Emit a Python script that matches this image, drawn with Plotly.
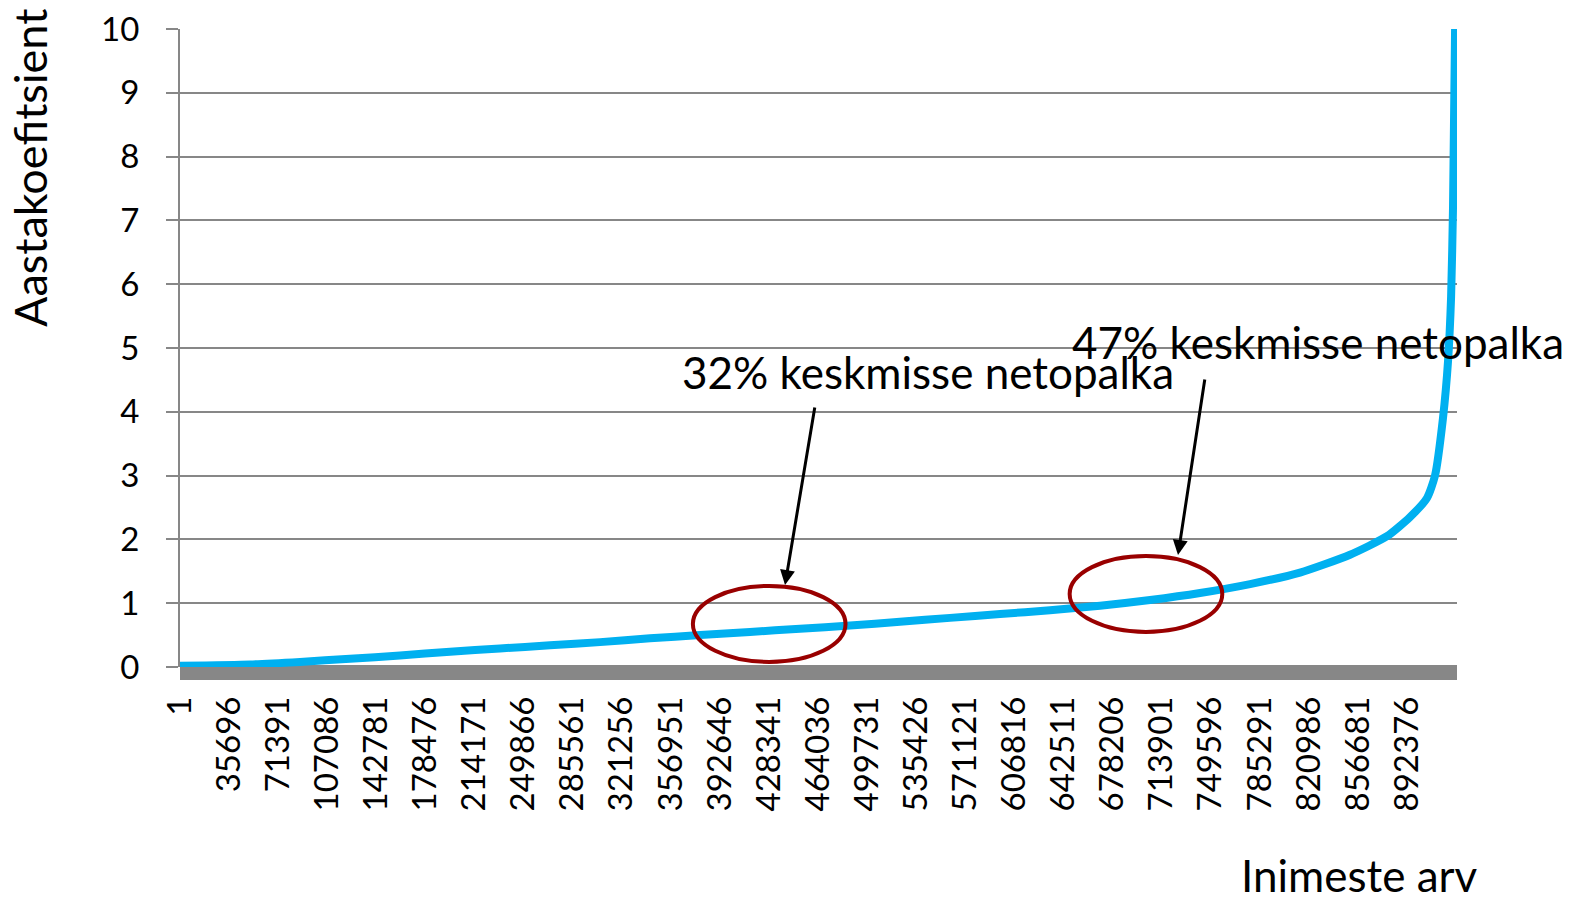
import plotly.graph_objects as go

# people ranked (x) and their annual coefficient (y)
people = [1, 50900, 87300, 123600, 160000, 196400, 232700, 269100, 305500, 341800,
          378200, 414500, 450900, 487300, 523600, 560000, 596400, 632700, 669100,
          705500, 741800, 778200, 814500, 850900, 877800, 894500, 906900, 912700,
          918500, 922200, 924400, 925800, 927300]
coef = [0.02, 0.04, 0.08, 0.13, 0.18, 0.24, 0.29, 0.34, 0.39, 0.45,
        0.50, 0.55, 0.60, 0.65, 0.71, 0.77, 0.83, 0.89, 0.96,
        1.05, 1.16, 1.30, 1.48, 1.76, 2.05, 2.35, 2.65, 3.0,
        3.9, 4.8, 5.8, 7.2, 10.0]

tick_vals = [1 + 35695 * k for k in range(26)]
tick_text = [str(v) for v in tick_vals]
y_ticks = list(range(0, 11))

FONT = "Lato, Calibri, sans-serif"
GRID = "#878787"
RING = "#990000"

fig = go.Figure()
fig.add_trace(
    go.Scatter(
        x=people,
        y=coef,
        mode="lines",
        line=dict(color="#00B0F0", width=8, shape="spline", smoothing=0.6),
        hoverinfo="skip",
    )
)

# thick grey axis band under zero
fig.add_shape(type="rect", xref="paper", yref="paper", x0=0, x1=1, y0=-0.0205, y1=0.003,
              fillcolor="#878787", line=dict(width=0), layer="below")

# red rings
fig.add_shape(type="circle", xref="x", yref="y", x0=373000, x1=484000, y0=0.08, y1=1.27,
              line=dict(color=RING, width=4))
fig.add_shape(type="circle", xref="x", yref="y", x0=647000, x1=758000, y0=0.55, y1=1.74,
              line=dict(color=RING, width=4))


def label(text, x, y, size=44, angle=0):
    return dict(text=text, xref="paper", yref="paper", x=x, y=y, xanchor="center",
                yanchor="middle", textangle=angle, showarrow=False,
                font=dict(size=size, family=FONT, color="black"))


annotations = [
    label("32% keskmisse netopalka", 0.5857, 0.4624),
    label("47% keskmisse netopalka", 0.891, 0.509),
    dict(text="", xref="x", yref="y", x=440000, y=1.285, ax=30, ay=-179,
         showarrow=True, arrowhead=2, arrowsize=1, arrowwidth=3, arrowcolor="black"),
    dict(text="", xref="x", yref="y", x=725800, y=1.755, ax=27, ay=-177,
         showarrow=True, arrowhead=2, arrowsize=1, arrowwidth=3, arrowcolor="black"),
    label("Aastakoefitsient", -0.1175, 0.782, size=45, angle=-90),
    label("Inimeste arv", 0.924, -0.326),
]

fig.update_layout(
    width=1567,
    height=889,
    paper_bgcolor="white",
    plot_bgcolor="rgba(0,0,0,0)",
    margin=dict(l=172, r=118, t=21, b=230, autoexpand=False),
    showlegend=False,
    font=dict(family=FONT, color="black"),
    annotations=annotations,
    xaxis=dict(
        range=[1, 928700],
        tickvals=tick_vals,
        ticktext=tick_text,
        tickangle=-90,
        tickfont=dict(size=33, family=FONT, color="black"),
        showgrid=False,
        zeroline=False,
        showline=False,
        ticks="",
        ticklabelstandoff=22,
        ticklabeloverflow="allow",
    ),
    yaxis=dict(
        range=[0, 10],
        tickvals=y_ticks,
        tickfont=dict(size=33, family=FONT, color="black"),
        showgrid=True,
        gridcolor=GRID,
        gridwidth=2,
        zeroline=False,
        showline=True,
        linecolor=GRID,
        linewidth=2,
        ticks="outside",
        ticklen=12,
        tickwidth=2,
        tickcolor=GRID,
        ticklabelstandoff=20,
        ticklabeloverflow="allow",
    ),
)

fig.write_html("out.html")
